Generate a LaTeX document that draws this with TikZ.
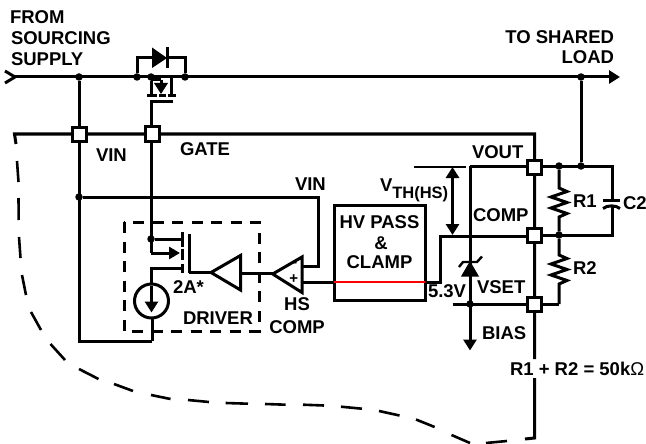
\documentclass[tikz,border=0pt]{standalone}
\usepackage{fontspec}
\setmainfont{Liberation Sans}
\usetikzlibrary{arrows.meta,calc}
\tikzset{
 wire/.style={line width=3pt,line cap=butt,line join=miter},
 pin/.style={draw=black,fill=white,line width=3pt,minimum size=14pt,inner sep=0pt,outer sep=0pt,shape=rectangle},
 dot/.style={circle,fill=black,minimum size=7.5pt,inner sep=0pt,outer sep=0pt},
 lab/.style={font=\bfseries\fontsize{18.5}{21}\selectfont,inner sep=0pt,outer sep=0pt,text=black},
 solidhead/.style={-{Triangle[length=11pt,width=13pt]}},
 dashseg/.style={line width=2.6pt},
 drvbox/.style={draw=black,line width=3pt,dash pattern=on 11pt off 8.5pt},
 blockbox/.style={draw=black,line width=3pt,minimum width=91pt,minimum height=95pt,inner sep=0pt,outer sep=0pt,shape=rectangle},
 ampshape/.style={draw=black,line width=3pt,fill=white,line join=miter}
}
\begin{document}
\begin{tikzpicture}[x=1pt,y=-1pt]
\useasboundingbox (0,0) rectangle (646,444);
% coordinates
\coordinate (railL) at (15,77);
\coordinate (railR) at (620,77);
\node[dot] (jVin) at (79,77) {};
\node[dot] (jDiodeL) at (137,77) {};
\node[dot] (jSrc) at (151,77) {};
\node[dot] (jDiodeR) at (185,77) {};
\node[dot] (jLoad) at (581,77) {};
\coordinate (gateL) at (14.5,134);
\coordinate (gateEnd) at (16,144);
\coordinate (gateCorner) at (534.5,134);
\node[dot] (jV2) at (79,197) {};
\node[dot] (jDrv) at (151,239) {};
\node[dot] (jR1top) at (559,166) {};
\node[dot] (jC) at (581,166) {};
\node[dot] (jR1bot) at (559,235) {};
\node[dot] (jZ) at (470,304) {};
% rails
\draw[wire,solidhead] (railL) -- (railR);
\draw[wire] (5,71) -- (15,77) -- (5,83);
% diode bypass
\draw[wire] (jDiodeL) |- (152,58);
\draw[wire] (jDiodeR) |- (168,58);
\fill (152,47.5) -- (167,58) -- (152,68) -- cycle;
\draw[wire] (167.5,47.5) -- (167.5,68.5);
% pass FET
\draw[wire] (jSrc) -- (151,95.5);
\draw[wire] (171,77) -- (171,95.5);
\draw[wire] (151,80) -- (161,80);
\draw[wire] (161,80) -- (161,84);
\fill (154,83) -- (168,83) -- (161,94) -- cycle;
\draw[wire] (147,95.5) -- (157,95.5);
\draw[wire] (159,95.5) -- (166,95.5);
\draw[wire] (168,95.5) -- (176,95.5);
\draw[wire] (173,101.5) -- (151,101.5) -- (151,134);
% main vertical wires
\draw[wire] (jVin) -- (79,341) -- (152,341);
\draw[wire] (151,134) -- (151,253);
\draw[wire] (jV2) -- (318,197) -- (318,266.5) -- (302,266.5);
% gate and lower lines
\draw[wire] (gateEnd) -- (gateL) -- (gateCorner) -- (534.5,359);
\draw[wire] (534.5,378) -- (534.5,438) -- (525,439);
% dashes
\foreach \a/\b/\c/\d in {17/161/18.5/182, 18.5/198/18.7/220, 19/237/20.5/258, 22/275/26/295, 31/312/41/330, 50.5/344/65/360, 79/369/98.5/379, 114/384/133/391, 151/395/170.5/399, 188/400/209/402, 225.6/403/248/403.7, 265/404/285.6/404.7, 303/404.7/324/405.5, 341/406.7/362/408.7, 379/411/399.5/415.5, 416/419.5/434.6/427, 451.5/435/470/443, 486/443/507/441}
 \draw[dashseg] (\a,\b) -- (\c,\d);
% driver box
\draw[drvbox] (124,222) rectangle (259,331);
% driver FET
\draw[wire] (jDrv) -- (182,239);
\draw[wire,-{Triangle[length=11pt,width=12pt]}] (151,253) -- (180,253);
\draw[wire] (151,301) |- (182,268);
\draw[wire] (182,232) -- (182,246.5);
\draw[wire] (182,248.5) -- (182,260);
\draw[wire] (182,264) -- (182,273);
\draw[wire] (189,234) -- (189,273);
\draw[wire] (189,272.5) -- (212,272.5);
\draw[wire] (152,318) -- (152,341);
% current source
\node[circle,draw=black,line width=3pt,fill=white,minimum size=34pt,inner sep=0pt] (isrc) at (151.5,301) {};
\draw[wire,-{Triangle[length=11pt,width=13pt]}] (151.5,286) -- (151.5,312.5);
% buffer & comparator
\draw[ampshape] (211,272.5) -- (240.5,255.5) -- (240.5,290) -- cycle;
\draw[wire] (240.5,273.5) -- (272.7,273.5);
\draw[ampshape] (272.7,274) -- (302,257) -- (302,292.5) -- cycle;
\node[font=\bfseries\fontsize{13}{13}\selectfont,inner sep=0pt] (mn) at (295,264.5) {-};
\node[font=\bfseries\fontsize{15}{15}\selectfont,inner sep=0pt] (pl) at (293.7,279) {+};
% HV pass
\node[blockbox,anchor=north west] (hv) at (334,205) {};
\draw[wire] (302,282) -- (334,282);
\draw[line width=2.4pt,red] (334,282) -- (425,282);
\draw[wire] (425,282) -- (440,282) -- (440,236) -- (534.5,236);
% output network
\draw[wire] (470,166) -- (612,166) -- (612,199);
\draw[wire] (612,207) -- (612,235.5) -- (534.5,235.5);
\draw[wire,solidhead] (470,166) -- (470,350.5);
\draw[wire] (452.5,304) -- (559,304);
\draw[wire] (jLoad) -- (jC);
\draw[wire] (jR1top) -- (559,188) -- (567,191.5) -- (551,197) -- (567,202.5) -- (551,208) -- (567,213.5) -- (559,217) -- (jR1bot);
\draw[wire] (jR1bot) -- (559,255) -- (567,258.5) -- (551,264) -- (567,269.5) -- (551,275) -- (567,280.5) -- (559,284) -- (559,304);
% capacitor
\draw[wire] (603,200.5) -- (620,200.5);
\draw[wire] (603,208.5) .. controls (607,205) and (616,205) .. (620,208.5);
% zener
\fill (470,261) -- (479,276.5) -- (461,276.5) -- cycle;
\draw[line width=2.4pt] (459,267) -- (463,262) -- (477,262) -- (482,256.5);
% VTH dimension
\draw[line width=2pt] (414,167) -- (466,167);
\draw[wire,{Triangle[length=11pt,width=13pt]}-{Triangle[length=11pt,width=13pt]}] (452.5,167) -- (452.5,235);
% pins
\node[pin] (pVin) at (79,134.5) {};
\node[pin] (pGate) at (152.5,134) {};
\node[pin] (pVout) at (534,167) {};
\node[pin] (pComp) at (534,235) {};
\node[pin] (pVset) at (534,304) {};
% texts
\node[lab,anchor=base west] (t1) at (10,24) {FROM};
\node[lab,anchor=base west] (t2) at (11,45) {SOURCING};
\node[lab,anchor=base west] (t3) at (11,66) {SUPPLY};
\node[lab,anchor=base east] (t4) at (614,44) {TO SHARED};
\node[lab,anchor=base east] (t5) at (614,64) {LOAD};
\node[lab,anchor=base west] (t6) at (96,161) {VIN};
\node[lab,anchor=base west] (t7) at (180,155) {GATE};
\node[lab,anchor=base west] (t8) at (295,190) {VIN};
\node[lab,anchor=base west] (t9) at (472,158) {VOUT};
\node[lab,anchor=base west] (t10) at (473,221) {COMP};
\node[lab,anchor=base west] (t11) at (477,293) {VSET};
\node[lab,anchor=base west] (t12) at (482,339) {BIAS};
\node[lab,anchor=base west] (t13) at (573,207) {R1};
\node[lab,anchor=base west] (t14) at (623,209) {C2};
\node[lab,anchor=base west] (t15) at (573,274) {R2};
\node[lab,anchor=base west] (t16) at (428,297) {5.3V};
\node[lab,anchor=base west] (t17) at (380,191) {V\raisebox{-7pt}{\fontsize{16.5}{16.5}\selectfont TH(HS)}};
\node[lab,anchor=base] (t18) at (379.5,228.5) {HV PASS};
\node[lab,anchor=base] (t19) at (381,249.5) {\&};
\node[lab,anchor=base] (t20) at (379.5,268.5) {CLAMP};
\node[lab,anchor=base west] (t21) at (173,293) {2A*};
\node[lab,anchor=base west] (t22) at (183,324) {DRIVER};
\node[lab] (t23) at (297,304) {HS};
\node[lab] (t24) at (297,327) {COMP};
\node[lab,anchor=base west] (t25) at (510,375) {R1 + R2 = 50k{\mdseries Ω}};
\end{tikzpicture}
\end{document}
